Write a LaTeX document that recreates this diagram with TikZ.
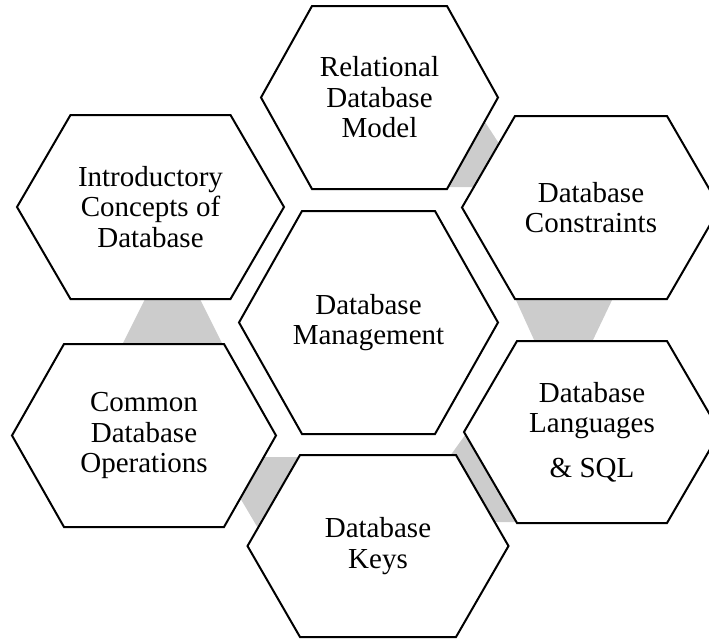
\documentclass[tikz,border=0pt]{standalone}
\usepackage{fontspec}
\setmainfont{Liberation Serif}
\definecolor{conngray}{RGB}{204,204,204}
\tikzset{
  hexline/.style={draw=black, line width=2pt, fill=white, line join=miter},
  hextext/.style={align=center, inner sep=0pt, font=\fontsize{29}{30.5}\selectfont},
  conn/.style={fill=conngray, draw=none}
}
\newcommand\hexcell[7]{%
  \draw[hexline] (#2-#4,#3) -- (#2-#5,#3-#6) -- (#2+#5,#3-#6) -- (#2+#4,#3)
     -- (#2+#5,#3+#6) -- (#2-#5,#3+#6) -- cycle;
  \node[hextext] (#1) at (#2,#3) {#7};}
\begin{document}
\begin{tikzpicture}[x=1pt,y=-1pt]
\useasboundingbox (0,0) rectangle (709,638);
\clip (0,0) rectangle (709,638);
% gray connectors
\fill[conn] (485,122) -- (511,162) -- (474,187) -- (440,187) -- cycle;
\fill[conn] (515,298) -- (613,298) -- (592,342) -- (535,342) -- cycle;
\fill[conn] (450,456) -- (468,431) -- (525,522) -- (490,522) -- cycle;
\fill[conn] (255,457) -- (305,457) -- (265,540) -- (236,491) -- cycle;
\fill[conn] (145,299) -- (200,299) -- (223,345) -- (122,345) -- cycle;
% hexagons
\hexcell{rel}{379.5}{97.5}{118.5}{67.5}{91.5}{Relational\\Database\\Model}
\hexcell{intro}{150.5}{207}{133.5}{80}{92}{Introductory\\Concepts of\\Database}
\hexcell{cons}{591}{207.5}{129}{76}{91.5}{Database\\Constraints}
\hexcell{mgmt}{368.5}{322.5}{129.5}{66.5}{111.5}{Database\\Management}
\hexcell{common}{144}{435.5}{132}{80}{91.5}{Common\\Database\\Operations}
\hexcell{lang}{592}{432}{128}{75}{91}{Database\\Languages\\[14pt]\& SQL}
\hexcell{keys}{378}{546}{130.5}{78}{91}{Database\\Keys}
\end{tikzpicture}
\end{document}
